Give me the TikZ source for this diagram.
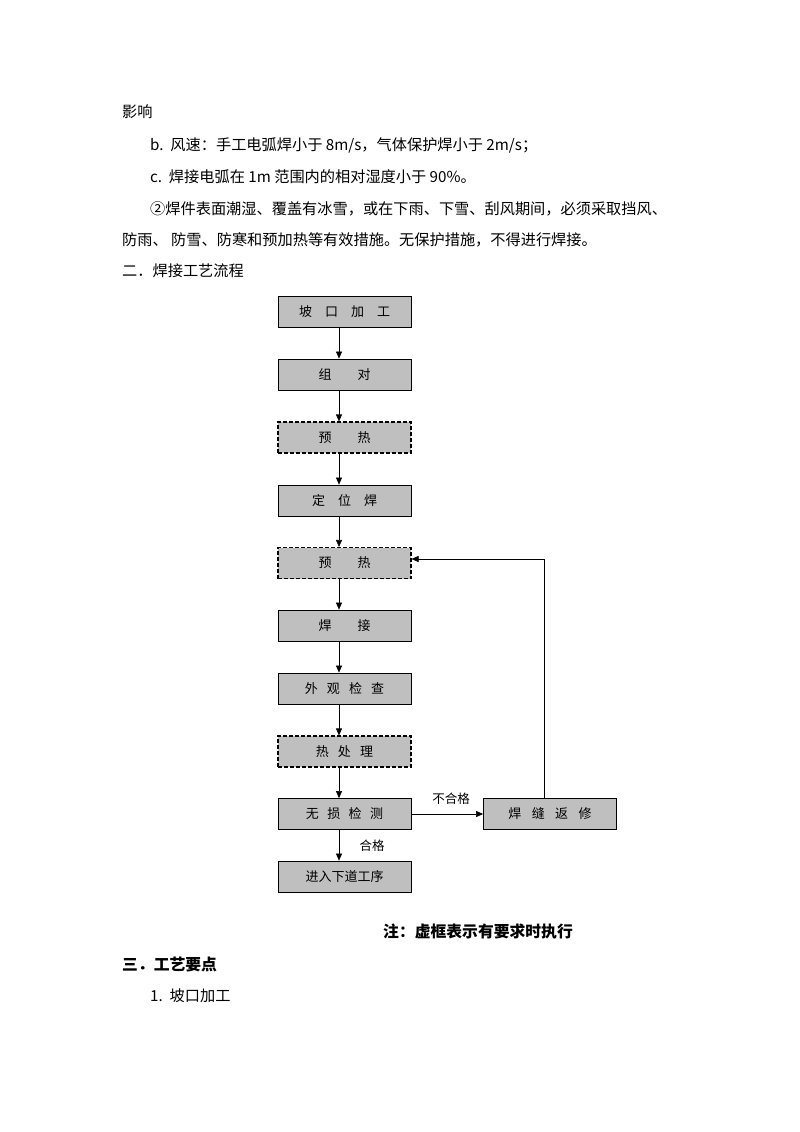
\documentclass[tikz,border=0pt]{standalone}
\usepackage{fontspec}
\setmainfont{Noto Sans CJK SC}
\usetikzlibrary{arrows.meta}
\begin{document}
\begin{tikzpicture}[x=1pt,y=-1pt,
  txt/.style={anchor=west,inner sep=0pt,font=\fontsize{15.2}{17}\selectfont},
  btxt/.style={anchor=west,inner sep=0pt,font=\fontsize{15.8}{17}\selectfont\bfseries},
  bx/.style={draw=black,fill=black!25,line width=0.8pt,minimum width=133pt,minimum height=31pt,inner sep=0pt,font=\fontsize{13}{14}\selectfont},
  dbx/.style={bx,dash pattern=on 4pt off 2pt,line width=1.1pt},
  arr/.style={-{Triangle[length=7pt,width=6pt]},line width=0.6pt},
  lbl/.style={inner sep=0pt,font=\fontsize{12.5}{14}\selectfont}]
\useasboundingbox (0,0) rectangle (800,1132);
\node[txt] (t1) at (122,112) {影响};
\node[txt] (t2) at (150,145) {b.\ \ 风速：手工电弧焊小于 8m/s，气体保护焊小于 2m/s；};
\node[txt] (t3) at (150,177) {c.\ \ 焊接电弧在 1m 范围内的相对湿度小于 90\%。};
\node[txt] (t4) at (150,209) {②焊件表面潮湿、覆盖有冰雪，或在下雨、下雪、刮风期间，必须采取挡风、};
\node[txt] (t5) at (122,240) {防雨、 防雪、防寒和预加热等有效措施。无保护措施，不得进行焊接。};
\node[txt] (t6) at (122,271) {二．焊接工艺流程};

\node[bx]  (n1)  at (344.5,312) {坡\hspace{1em}口\hspace{1em}加\hspace{1em}工};
\node[bx]  (n2)  at (344.5,374.5) {组\hspace{2em}对};
\node[dbx] (n3)  at (344.5,437.5) {预\hspace{2em}热};
\node[bx]  (n4)  at (344.5,500.5) {定\hspace{1em}位\hspace{1em}焊};
\node[dbx] (n5)  at (344.5,563) {预\hspace{2em}热};
\node[bx]  (n6)  at (344.5,625.5) {焊\hspace{2em}接};
\node[bx]  (n7)  at (344.5,688.5) {外\hspace{0.7em}观\hspace{0.7em}检\hspace{0.7em}查};
\node[dbx] (n8)  at (344.5,751.5) {热\hspace{0.7em}处\hspace{0.7em}理};
\node[bx]  (n9)  at (344.5,814) {无\hspace{0.65em}损\hspace{0.65em}检\hspace{0.65em}测};
\node[bx]  (n10) at (344.5,876.5) {进入下道工序};
\node[bx]  (r)   at (550,814) {焊\hspace{0.8em}缝\hspace{0.8em}返\hspace{0.8em}修};

\coordinate (ax) at (339,0);
\foreach \a/\b in {n1/n2,n2/n3,n3/n4,n4/n5,n5/n6,n6/n7,n7/n8,n8/n9,n9/n10}
  \draw[arr] (\a.south -| ax) -- (\b.north -| ax);
\draw[arr] (n9) -- (r);
\coordinate (c1) at (544,559);
\draw[arr] (r.north -| c1) -- (c1) -- (n5.east |- c1);
\node[lbl] (l1) at (451,799) {不合格};
\node[lbl] (l2) at (372,846) {合格};

\node[btxt] (t7) at (383,931) {注：虚框表示有要求时执行};
\node[btxt] (t8) at (122,965) {三．工艺要点};
\node[txt] (t9) at (150,996) {1.\ \ 坡口加工};
\end{tikzpicture}
\end{document}
